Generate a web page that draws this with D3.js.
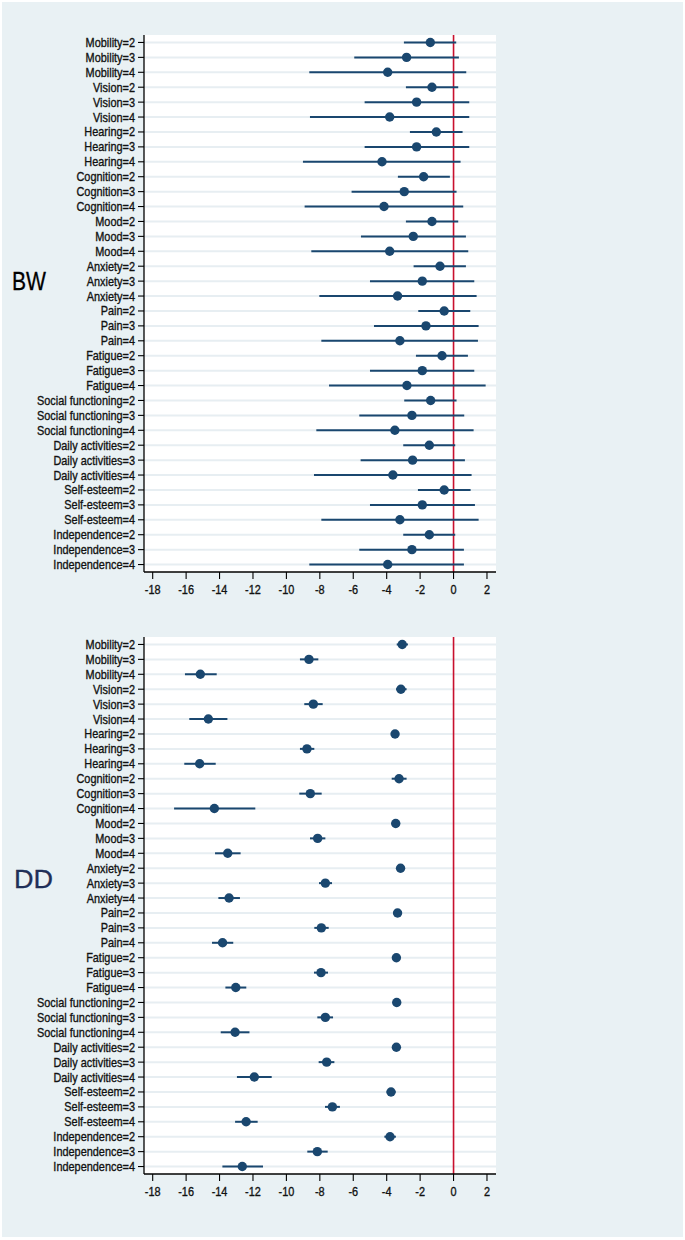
<!DOCTYPE html>
<html><head><meta charset="utf-8">
<script src="https://cdn.jsdelivr.net/npm/d3@7"></script>
<style>body{margin:0;background:#fff}svg{display:block}</style>
</head><body>
<svg id="c" width="685" height="1240"></svg>
<script>
const categories = [
"Mobility=2","Mobility=3","Mobility=4","Vision=2","Vision=3","Vision=4",
"Hearing=2","Hearing=3","Hearing=4","Cognition=2","Cognition=3","Cognition=4",
"Mood=2","Mood=3","Mood=4","Anxiety=2","Anxiety=3","Anxiety=4",
"Pain=2","Pain=3","Pain=4","Fatigue=2","Fatigue=3","Fatigue=4",
"Social functioning=2","Social functioning=3","Social functioning=4",
"Daily activities=2","Daily activities=3","Daily activities=4",
"Self-esteem=2","Self-esteem=3","Self-esteem=4",
"Independence=2","Independence=3","Independence=4"];

const bwEst = [-1.39,-2.81,-3.94,-1.29,-2.21,-3.82,-1.03,-2.21,-4.28,-1.79,-2.95,-4.16,
-1.29,-2.41,-3.82,-0.81,-1.87,-3.35,-0.56,-1.65,-3.21,-0.69,-1.87,-2.79,
-1.37,-2.49,-3.51,-1.45,-2.45,-3.63,-0.56,-1.87,-3.21,-1.45,-2.49,-3.94];
const bwLo = [-2.97,-5.94,-8.63,-2.85,-5.32,-8.59,-2.61,-5.32,-9.01,-3.33,-6.10,-8.91,
-2.85,-5.54,-8.51,-2.39,-5.00,-8.03,-2.11,-4.76,-7.91,-2.25,-5.00,-7.45,
-2.95,-5.64,-8.21,-3.01,-5.56,-8.35,-2.13,-5.00,-7.91,-3.01,-5.64,-8.63];
const bwHi = [0.16,0.32,0.76,0.28,0.94,0.94,0.54,0.94,0.42,-0.22,0.18,0.58,
0.28,0.74,0.88,0.74,1.24,1.38,1.00,1.50,1.46,0.86,1.24,1.92,
0.18,0.64,1.20,0.10,0.68,1.08,1.02,1.28,1.50,0.10,0.62,0.62];

const ddEst = [-3.07,-8.65,-15.15,-3.15,-8.39,-14.67,-3.50,-8.77,-15.19,-3.26,-8.57,-14.31,
-3.46,-8.13,-13.51,-3.17,-7.67,-13.43,-3.35,-7.91,-13.82,-3.42,-7.93,-13.03,
-3.40,-7.67,-13.07,-3.42,-7.59,-11.92,-3.74,-7.25,-12.41,-3.80,-8.15,-12.64];
const ddLo = [-3.40,-9.19,-16.07,-3.44,-8.93,-15.81,-3.70,-9.19,-16.11,-3.70,-9.23,-16.72,
-3.70,-8.59,-14.27,-3.35,-8.05,-14.07,-3.52,-8.33,-14.45,-3.62,-8.35,-13.65,
-3.60,-8.15,-13.93,-3.64,-8.07,-12.96,-4.00,-7.69,-13.07,-4.14,-8.75,-13.83];
const ddHi = [-2.73,-8.09,-14.17,-2.81,-7.83,-13.53,-3.28,-8.33,-14.23,-2.81,-7.89,-11.86,
-3.20,-7.67,-12.74,-2.97,-7.27,-12.78,-3.15,-7.47,-13.18,-3.22,-7.51,-12.40,
-3.20,-7.21,-12.21,-3.20,-7.13,-10.88,-3.47,-6.80,-11.72,-3.45,-7.53,-11.40];

const xTicks = [-18,-16,-14,-12,-10,-8,-6,-4,-2,0,2];
const panels = [
  {name:"BW", est:bwEst, lo:bwLo, hi:bwHi, top:35, labelColor:"#000", lx:12, ly:290, lw:34},
  {name:"DD", est:ddEst, lo:ddLo, hi:ddHi, top:637, labelColor:"#1f2f58", lx:14, ly:888, lw:39}
];

const svg = d3.select("#c");
const FONT = "'Liberation Sans', Arial, sans-serif";
const NAVY = "#1a476f";
const SX = 0.84;

svg.append("rect").attr("x",2).attr("y",2).attr("width",681).attr("height",1235).attr("fill","#e9f1f4");

const left = 144, right = 496, plotH = 537;
const x = d3.scaleLinear().domain([-18.52, 2.54]).range([left, right]);

panels.forEach(p => {
  const y = d3.scalePoint().domain(categories).range([p.top, p.top + plotH]).padding(0.5);
  const g = svg.append("g");
  g.append("rect").attr("x",left).attr("y",p.top).attr("width",right-left).attr("height",plotH).attr("fill","#fff");
  g.selectAll("line.grid").data(categories).join("line")
    .attr("x1",left).attr("x2",right).attr("y1",d=>y(d)).attr("y2",d=>y(d))
    .attr("stroke","#e7eef2").attr("stroke-width",2);
  g.append("line").attr("x1",x(0)).attr("x2",x(0)).attr("y1",p.top).attr("y2",p.top+plotH)
    .attr("stroke","#c8102e").attr("stroke-width",1.6);
  g.selectAll("line.ci").data(categories).join("line")
    .attr("x1",(d,i)=>x(p.lo[i])).attr("x2",(d,i)=>x(p.hi[i]))
    .attr("y1",d=>y(d)).attr("y2",d=>y(d))
    .attr("stroke",NAVY).attr("stroke-width",2);
  g.selectAll("circle").data(categories).join("circle")
    .attr("cx",(d,i)=>x(p.est[i])).attr("cy",d=>y(d)).attr("r",4.7).attr("fill",NAVY);
  g.append("line").attr("x1",left).attr("x2",left).attr("y1",p.top).attr("y2",p.top+plotH).attr("stroke","#000").attr("stroke-width",1.3);
  g.selectAll("line.ytick").data(categories).join("line")
    .attr("x1",left-6).attr("x2",left).attr("y1",d=>y(d)).attr("y2",d=>y(d)).attr("stroke","#000").attr("stroke-width",1.1);
  g.selectAll("text.ylab").data(categories).join("text")
    .attr("transform",d=>`translate(135,${y(d)+4.5}) scale(${SX},1)`)
    .attr("text-anchor","end").attr("font-family",FONT).attr("font-size",13)
    .attr("fill","#111").attr("stroke","#111").attr("stroke-width",0.35)
    .text(d=>d);
  const by = p.top + plotH;
  g.append("line").attr("x1",left).attr("x2",right).attr("y1",by).attr("y2",by).attr("stroke","#000").attr("stroke-width",1.3);
  g.selectAll("line.xtick").data(xTicks).join("line")
    .attr("x1",d=>x(d)).attr("x2",d=>x(d)).attr("y1",by).attr("y2",by+7).attr("stroke","#000").attr("stroke-width",1.1);
  g.selectAll("text.xlab").data(xTicks).join("text")
    .attr("transform",d=>`translate(${x(d)},${by+22}) scale(${SX},1)`)
    .attr("text-anchor","middle").attr("font-family",FONT).attr("font-size",13)
    .attr("fill","#111").attr("stroke","#111").attr("stroke-width",0.35)
    .text(d=>d);
  svg.append("text").attr("x",p.lx).attr("y",p.ly).attr("font-family",FONT).attr("font-size",25)
    .attr("textLength",p.lw).attr("lengthAdjust","spacingAndGlyphs")
    .attr("fill",p.labelColor).attr("stroke",p.labelColor).attr("stroke-width",0.3).text(p.name);
});
</script>
</body></html>
